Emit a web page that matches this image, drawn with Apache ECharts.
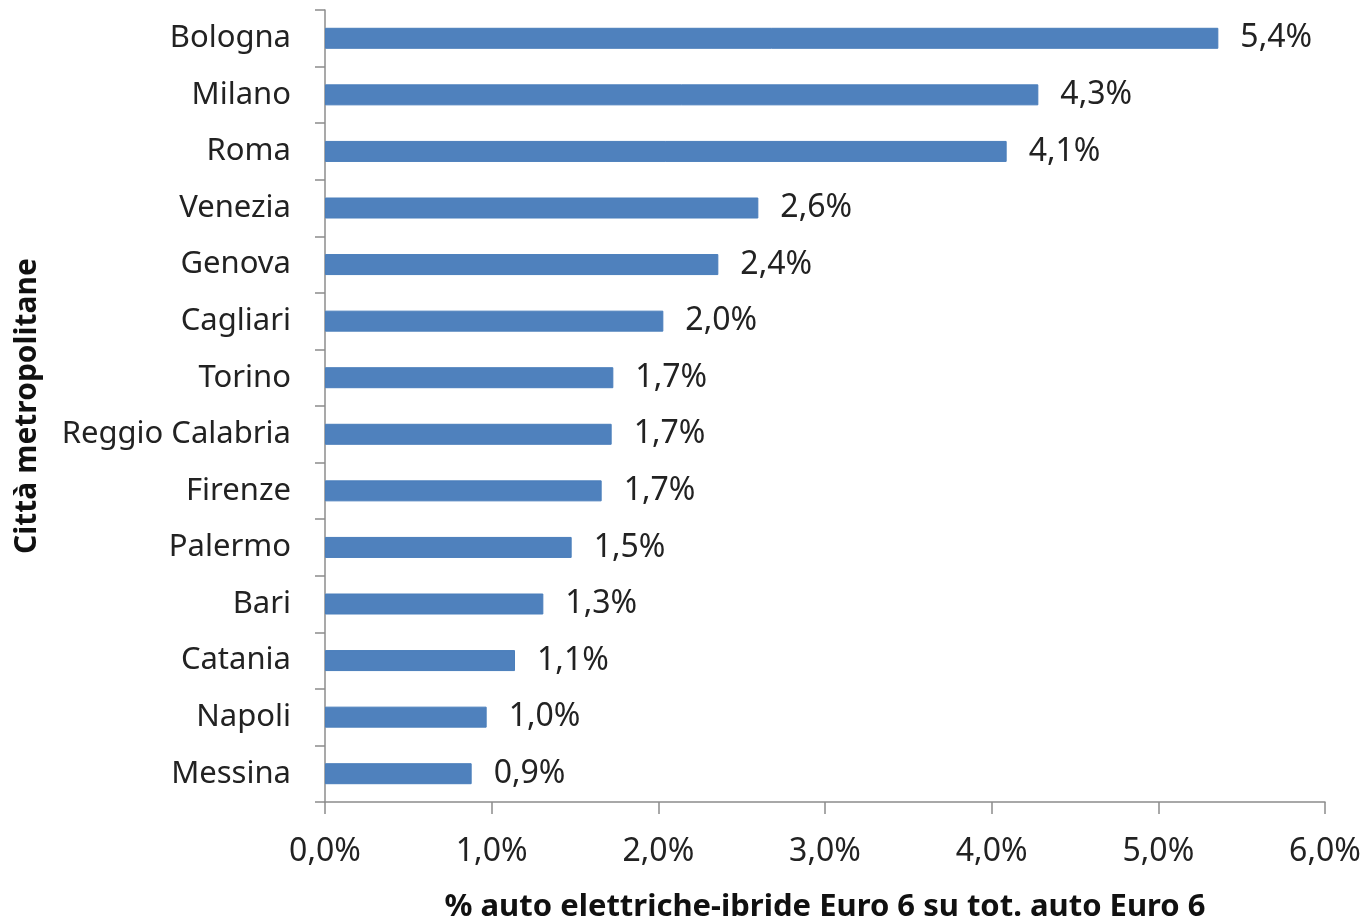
<!DOCTYPE html>
<html><head><meta charset="utf-8">
<script src="https://cdn.jsdelivr.net/npm/echarts@6/dist/echarts.min.js"></script>
<style>html,body{margin:0;padding:0;background:#fff;overflow:hidden;width:100%;height:100%}#c{width:100vw;height:100vh}</style>
</head><body><div id="c"></div>
<script>
const cities = ["Bologna","Milano","Roma","Venezia","Genova","Cagliari","Torino","Reggio Calabria","Firenze","Palermo","Bari","Catania","Napoli","Messina"];
const values = [5.36,4.28,4.09,2.60,2.36,2.03,1.73,1.72,1.66,1.48,1.31,1.14,0.97,0.88];
const pctLabels = ["5,4%","4,3%","4,1%","2,6%","2,4%","2,0%","1,7%","1,7%","1,7%","1,5%","1,3%","1,1%","1,0%","0,9%"];
const xTicks = ["0,0%","1,0%","2,0%","3,0%","4,0%","5,0%","6,0%"];
const font = "Noto Sans";
const el = document.getElementById('c');
const chart = echarts.init(el);
chart.setOption({
  animation:false,
  grid:{left:325,right:42,top:10,bottom:117,containLabel:false,outerBoundsMode:'none'},
  xAxis:{type:'value',min:0,max:6,interval:1,
    name:'% auto elettriche-ibride Euro 6 su tot. auto Euro 6',nameLocation:'middle',nameGap:90,
    nameTextStyle:{fontFamily:font,fontSize:31,fontWeight:'bold',color:'#111'},
    axisLine:{show:true,lineStyle:{color:'#8c8c8c',width:1.5}},
    axisTick:{show:true,length:12,lineStyle:{color:'#8c8c8c',width:1.5}},
    splitLine:{show:false},
    axisLabel:{fontFamily:font,fontSize:32,color:'#222',margin:34,formatter:(v)=>xTicks[Math.round(v)]}
  },
  yAxis:{type:'category',data:cities,inverse:true,
    name:'Città metropolitane',nameLocation:'middle',nameGap:283,nameRotate:90,
    nameTextStyle:{fontFamily:font,fontSize:30,fontWeight:'bold',color:'#111'},
    axisLine:{show:true,lineStyle:{color:'#8c8c8c',width:1.5}},
    axisTick:{show:true,length:10,lineStyle:{color:'#8c8c8c',width:1.5}},
    axisLabel:{fontFamily:font,fontSize:31,color:'#222',margin:34}
  },
  series:[{type:'bar',data:values,barWidth:21,
    itemStyle:{color:'#4F81BD',borderColor:'#4a7ebb',borderWidth:1},
    label:{show:true,position:'right',distance:22,fontFamily:font,fontSize:32,color:'#222',
      formatter:(p)=>pctLabels[p.dataIndex]}
  }]
});
</script></body></html>
